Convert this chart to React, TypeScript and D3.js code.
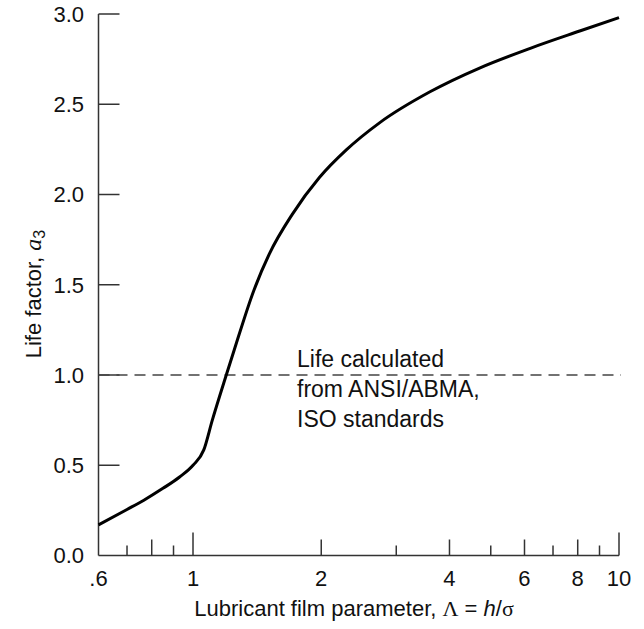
import * as d3 from 'd3'

// film parameter (lambda) and life factor
const lambdaValues = [0.6, 0.7, 0.765, 0.85, 0.93, 1.0, 1.06, 1.11, 1.197, 1.25, 1.39, 1.51, 1.71, 1.98, 2.29, 2.74, 3.6, 4.72, 6.19, 8.12, 10]
const lifeFactor = [0.17, 0.255, 0.305, 0.372, 0.435, 0.5, 0.585, 0.75, 1.0, 1.14, 1.47, 1.67, 1.89, 2.094, 2.247, 2.397, 2.569, 2.702, 2.81, 2.907, 2.98]

const yTicks = [0, 0.5, 1, 1.5, 2, 2.5, 3]
const xLabelTicks = [0.6, 1, 2, 4, 6, 8, 10]
const xLabelText = ['.6', '1', '2', '4', '6', '8', '10']
const xMinorTicks = [0.7, 0.8, 0.9, 2, 3, 4, 5, 6, 7, 8, 9]
const xMajorTicks = [1, 10]
const baseLine = 1.0
const noteLines = ['Life calculated', 'from ANSI/ABMA,', 'ISO standards']

const W = 644
const H = 629
const left = 98.5
const right = 619
const top = 14
const bottom = 555.5
const font = '"Liberation Sans", Arial, sans-serif'
const serif = '"Liberation Serif", "Times New Roman", serif'
const axisColor = '#333'

const App = () => {
    const x = d3.scaleLog().domain([0.6, 10]).range([left, right])
    const y = d3.scaleLinear().domain([0, 3]).range([bottom, top])

    const pts = lambdaValues.map((l, i) => [l, lifeFactor[i]] as [number, number])
    const line = d3.line<[number, number]>()
        .x(d => x(d[0]))
        .y(d => y(d[1]))
        .curve(d3.curveMonotoneX)

    // tick length: even values get a medium tick, odd a short one
    const tickLen = (v: number) => {
        if (xMajorTicks.includes(v)) return 23
        const r = Math.round(v < 1 ? v * 10 : v)
        return r % 2 === 0 ? 16 : 10
    }

    return (
        <svg width={W} height={H} style={{ position: 'absolute', left: 0, top: 0, background: '#fff' }}>
            {/* axes */}
            <line x1={left} x2={left} y1={top} y2={bottom} stroke={axisColor} strokeWidth={1.5} />
            <line x1={left} x2={right} y1={bottom} y2={bottom} stroke={axisColor} strokeWidth={1.5} />

            {yTicks.map(t => (
                <g key={'y' + t}>
                    {t > 0 && <line x1={left} x2={left + 21} y1={y(t)} y2={y(t)} stroke={axisColor} strokeWidth={1.5} />}
                    <text x={84} y={y(t)} dy="0.36em" textAnchor="end" fontFamily={font} fontSize={22} fill="#111">
                        {t.toFixed(1)}
                    </text>
                </g>
            ))}

            {[...xMinorTicks, ...xMajorTicks].map(t => (
                <line key={'xt' + t} x1={x(t)} x2={x(t)} y1={bottom} y2={bottom - tickLen(t)} stroke={axisColor} strokeWidth={1.5} />
            ))}
            {xLabelTicks.map((t, i) => (
                <text key={'xl' + t} x={x(t)} y={586} textAnchor="middle" fontFamily={font} fontSize={22} fill="#111">
                    {xLabelText[i]}
                </text>
            ))}

            {/* reference line */}
            <line x1={left} x2={right + 2} y1={y(baseLine)} y2={y(baseLine)} stroke="#444" strokeWidth={1.5} strokeDasharray="11,7" />
            {noteLines.map((s, i) => (
                <text key={s} x={297} y={367 + i * 30} fontFamily={font} fontSize={23} fill="#111">{s}</text>
            ))}

            {/* curve */}
            <path d={line(pts) ?? ''} fill="none" stroke="#000" strokeWidth={3} />

            {/* axis titles */}
            <text x={354} y={616} textAnchor="middle" fontFamily={font} fontSize={22} fill="#111">
                Lubricant film parameter, <tspan fontFamily={serif}>Λ</tspan> = <tspan fontStyle="italic">h</tspan>/<tspan fontFamily={serif}>σ</tspan>
            </text>
            <text transform="translate(41,294) rotate(-90)" textAnchor="middle" fontFamily={font} fontSize={22} fill="#111">
                Life factor, <tspan fontStyle="italic" fontFamily={serif} fontSize={24}>a</tspan><tspan fontSize={16} dy={4}>3</tspan>
            </text>
        </svg>
    )
}

export default App
